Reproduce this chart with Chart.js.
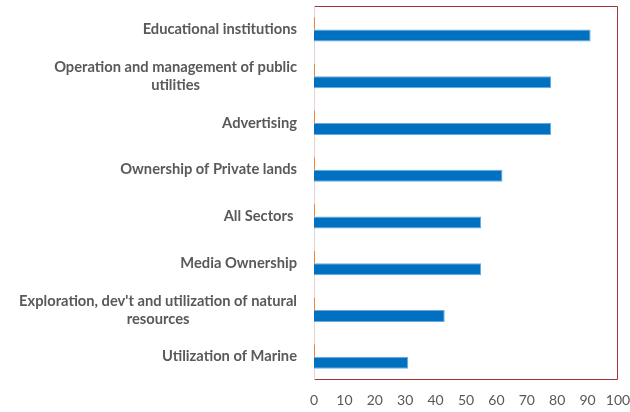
<!DOCTYPE html>
<html>
<head>
<meta charset="utf-8">
<script src="https://cdn.jsdelivr.net/npm/chart.js@4/dist/chart.umd.min.js"></script>
<style>
  html, body { margin: 0; padding: 0; background: #fff; }
  #wrap { width: 630px; height: 412px; }
</style>
</head>
<body>
<div id="wrap"><canvas id="chart" width="630" height="412"></canvas></div>
<script>
// Sectors, top to bottom
const sectors = [
  ['Educational institutions'],
  ['Operation and management of public', 'utilities'],
  ['Advertising'],
  ['Ownership of Private lands'],
  ['All Sectors '],
  ['Media Ownership'],
  ["Exploration, dev't and utilization of natural", 'resources'],
  ['Utilization of Marine']
];
const mainValues = [91, 78, 78, 62, 55, 55, 43, 31];
const minorValues = [0.3, 0.3, 0.3, 0.3, 0.3, 0.3, 0.3, 0.3];
const xTicks = [0, 10, 20, 30, 40, 50, 60, 70, 80, 90, 100];

const LABEL_RIGHT = 297;
const LABEL_FONT = 'bold 14.7px Lato';
const LABEL_COLOR = '#595959';

// plot frame: red box, light line on the category side
const frame = {
  id: 'frame',
  beforeDatasetsDraw(chart) {
    const { ctx, chartArea: a } = chart;
    const l = Math.round(a.left) + 0.5, r = Math.round(a.right) - 0.5;
    const t = Math.round(a.top) + 0.5, b = Math.round(a.bottom) - 0.5;
    ctx.save();
    ctx.lineWidth = 1;
    ctx.strokeStyle = '#A83232';
    ctx.beginPath();
    ctx.moveTo(l, t); ctx.lineTo(r, t); ctx.lineTo(r, b); ctx.lineTo(l, b);
    ctx.stroke();
    ctx.strokeStyle = '#E6D4D4';
    ctx.beginPath();
    ctx.moveTo(l, t); ctx.lineTo(l, b);
    ctx.stroke();
    ctx.restore();
  }
};

// category labels: block right-aligned, lines centred within the block
const sectorLabels = {
  id: 'sectorLabels',
  afterDraw(chart) {
    const { ctx } = chart;
    const y = chart.scales.y;
    ctx.save();
    ctx.font = LABEL_FONT;
    ctx.fillStyle = LABEL_COLOR;
    ctx.textAlign = 'center';
    ctx.textBaseline = 'middle';
    const lineH = 18;
    sectors.forEach((lines, i) => {
      const w = Math.max(...lines.map(s => ctx.measureText(s).width));
      const cx = LABEL_RIGHT - w / 2;
      const cy = y.getPixelForValue(i);
      const y0 = cy - (lines.length - 1) * lineH / 2;
      lines.forEach((s, k) => ctx.fillText(s, cx, y0 + k * lineH));
    });
    ctx.restore();
  }
};

new Chart(document.getElementById('chart'), {
  type: 'bar',
  data: {
    labels: sectors.map(s => s.join(' ')),
    datasets: [
      {
        data: minorValues,
        backgroundColor: '#ED7D31',
        borderWidth: 0
      },
      {
        data: mainValues,
        backgroundColor: '#0070C0',
        borderColor: 'rgba(91, 160, 220, 0.9)',
        borderWidth: 1
      }
    ]
  },
  options: {
    indexAxis: 'y',
    responsive: false,
    animation: false,
    layout: { padding: { left: 314, top: 6, right: 12, bottom: 0 } },
    datasets: {
      bar: { categoryPercentage: 0.52, barPercentage: 1 }
    },
    plugins: {
      legend: { display: false },
      tooltip: { enabled: false }
    },
    scales: {
      x: {
        min: 0,
        max: 100,
        afterBuildTicks: (s) => { s.ticks = xTicks.map(v => ({ value: v })); },
        afterFit: (s) => {
          s.height = 32;
          s.paddingLeft = 0;
          s.paddingRight = 0;
        },
        grid: { display: false, drawTicks: false },
        border: { display: false },
        ticks: {
          color: '#595959',
          font: { family: 'Lato', size: 14 },
          padding: 12,
          maxRotation: 0
        }
      },
      y: {
        afterFit: (s) => { s.width = 0; },
        grid: { display: false, drawTicks: false },
        border: { display: false },
        ticks: { display: false }
      }
    }
  },
  plugins: [frame, sectorLabels]
});
</script>
</body>
</html>
